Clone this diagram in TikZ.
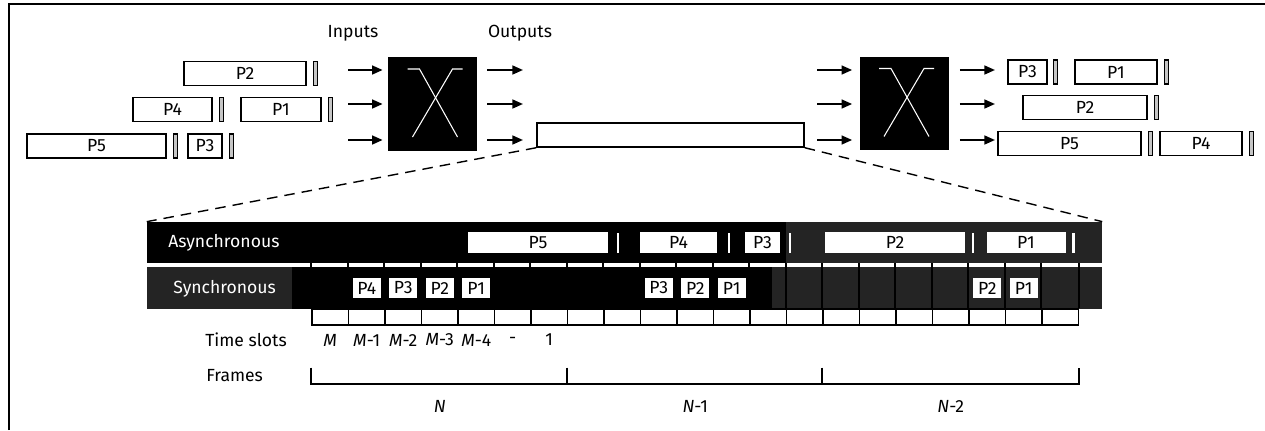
\documentclass[tikz,border=0pt]{standalone}
\usepackage{fontspec}
\setmainfont{Fira Sans}
\usetikzlibrary{positioning, arrows.meta, calc}

\begin{document}
\begin{tikzpicture}[
    x=0.02cm, y=-0.02cm,
    font=\fontsize{10}{12}\selectfont,
    pkt/.style={rectangle, draw, line width=0.8pt, fill=white, minimum width=#1,
                minimum height=0.48cm, inner sep=0pt},
    gapbar/.style={rectangle, draw, line width=0.6pt, fill=gray!45, minimum width=0.08cm,
                   minimum height=0.48cm, inner sep=0pt},
    switchbox/.style={rectangle, fill=black, minimum width=1.78cm, minimum height=1.87cm},
    xline/.style={white, line width=0.6pt},
    arr/.style={-{Triangle[length=6pt, width=5pt]}, line width=1.1pt},
    zoomline/.style={dash pattern=on 6pt off 4pt, line width=0.8pt},
    bandbox/.style={rectangle, fill=black, minimum width=19.1cm, inner sep=0pt},
    stipple/.style={fill=black!86},
    apkt/.style={rectangle, fill=white, minimum width=#1, minimum height=0.42cm, inner sep=0pt},
    amark/.style={rectangle, fill=white, minimum width=0.05cm, minimum height=0.4cm, inner sep=0pt},
    spkt/.style={rectangle, fill=white, minimum width=0.56cm, minimum height=0.4cm, inner sep=0pt},
    slot/.style={rectangle, draw, line width=0.8pt, fill=white, minimum width=0.73cm,
                 minimum height=0.32cm, inner sep=0pt},
    slottick/.style={line width=1.1pt},
    frameline/.style={line width=1.1pt},
    lbl/.style={anchor=west, inner sep=0pt},
  ]
    \useasboundingbox (0,0) rectangle (1265,430);

    % Border
    \draw[line width=0.9pt] (9,430) -- (9,4) -- (1265,4);

    % Headings
    \node (inputs) at (353,33) {Inputs};
    \node (outputs) at (520,33) {Outputs};

    % Input packets
    \node[pkt=2.44cm] (lp2) at (245,73.5) {P2};
    \node[gapbar, right=0.12cm of lp2] (lg2) {};
    \node[pkt=1.58cm] (lp4) at (172.5,109.5) {P4};
    \node[gapbar, right=0.12cm of lp4] (lg4) {};
    \node[pkt=1.6cm] (lp1) at (281,109.5) {P1};
    \node[gapbar, right=0.12cm of lp1] (lg1) {};
    \node[pkt=2.78cm] (lp5) at (96.5,146) {P5};
    \node[gapbar, right=0.12cm of lp5] (lg5) {};
    \node[pkt=0.68cm] (lp3) at (205,146) {P3};
    \node[gapbar, right=0.12cm of lp3] (lg3) {};

    % Switches
    \node[switchbox] (sw1) at (432.5,104) {};
    \node[switchbox] (sw2) at (904,103.5) {};
    \draw[xline] ($(sw1)+(-25,-35)$) -- ++(12,0) -- ($(sw1)+(25,33)$);
    \draw[xline] ($(sw1)+(30,-35)$) -- ++(-10,0) -- ($(sw1)+(-20,33)$);
    \draw[xline] ($(sw2)+(-25,-35)$) -- ++(12,0) -- ($(sw2)+(25,33)$);
    \draw[xline] ($(sw2)+(30,-35)$) -- ++(-10,0) -- ($(sw2)+(-20,33)$);

    % Link between the switches
    \node[pkt=5.34cm] (link) at (670.5,135) {};

    % Arrows
    \coordinate (a1) at (348,70);
    \coordinate (a2) at (348,104);
    \coordinate (a3) at (348,140);
    \coordinate (b1) at (523,70);
    \coordinate (b2) at (523,104);
    \coordinate (b3) at (523,140);
    \coordinate (c1) at (817,70);
    \coordinate (c2) at (817,104);
    \coordinate (c3) at (817,140);
    \coordinate (d1) at (995,70);
    \coordinate (d2) at (995,104);
    \coordinate (d3) at (995,140);
    \draw[arr, shorten >=0.1cm] (a1) -- (a1 -| sw1.west);
    \draw[arr, shorten >=0.1cm] (a2) -- (a2 -| sw1.west);
    \draw[arr, shorten >=0.1cm] (a3) -- (a3 -| sw1.west);
    \draw[arr, shorten <=0.2cm] (b1 -| sw1.east) -- (b1);
    \draw[arr, shorten <=0.2cm] (b2 -| sw1.east) -- (b2);
    \draw[arr, shorten <=0.2cm] (b3 -| sw1.east) -- (b3);
    \draw[arr, shorten >=0.14cm] (c1) -- (c1 -| sw2.west);
    \draw[arr, shorten >=0.14cm] (c2) -- (c2 -| sw2.west);
    \draw[arr, shorten >=0.14cm] (c3) -- (c3 -| sw2.west);
    \draw[arr, shorten <=0.22cm] (d1 -| sw2.east) -- (d1);
    \draw[arr, shorten <=0.22cm] (d2 -| sw2.east) -- (d2);
    \draw[arr, shorten <=0.22cm] (d3 -| sw2.east) -- (d3);

    % Output packets
    \node[pkt=0.78cm] (rp3) at (1027.5,72) {P3};
    \node[gapbar, right=0.1cm of rp3] (rg3) {};
    \node[pkt=1.64cm] (rp1) at (1116,72) {P1};
    \node[gapbar, right=0.12cm of rp1] (rg1) {};
    \node[pkt=2.48cm] (rp2) at (1085,107.5) {P2};
    \node[gapbar, right=0.12cm of rp2] (rg2) {};
    \node[pkt=2.86cm] (rp5) at (1069.5,143.5) {P5};
    \node[gapbar, right=0.12cm of rp5] (rg5) {};
    \node[pkt=1.64cm] (rp4) at (1201,143.5) {P4};
    \node[gapbar, right=0.12cm of rp4] (rg4) {};

    % Asynchronous / synchronous bands
    \node[bandbox, minimum height=0.82cm] (async) at (624.5,242.5) {};
    \node[bandbox, minimum height=0.84cm] (sync) at (624.5,288) {};
    \fill[stipple] (786,222) rectangle (async.south east);
    \fill[stipple] (sync.north west) rectangle (292,309);
    \fill[stipple] (772,267) rectangle (sync.south east);

    % Time slots
    \foreach \i in {1,...,21}
      \node[slot] (s\i) at ({312+(\i-0.5)*36.5},317) {};
    \foreach \i in {1,...,21}
      \draw[slottick] (s\i.north west) -- (s\i.north west |- async.south);
    \draw[slottick] (s21.north east) -- (s21.north east |- async.south);

    % Zoom lines
    \draw[zoomline] (link.south west) -- (async.north west);
    \draw[zoomline] (link.south east) -- (async.north east);

    % Band labels
    \node[lbl, text=white] (asynclbl) at (168,243) {Asynchronous};
    \node[lbl, text=white] (synclbl) at (173,289) {Synchronous};

    % Asynchronous packets
    \node[apkt=2.8cm] (ap5) at (538,242.5) {P5};
    \node[amark, right=0.16cm of ap5] (am5) {};
    \node[apkt=1.54cm] (ap4) at (678.5,242.5) {P4};
    \node[amark, right=0.2cm of ap4] (am4) {};
    \node[apkt=0.7cm] (ap3) at (762.5,242.5) {P3};
    \node[amark, right=0.16cm of ap3] (am3) {};
    \node[apkt=2.8cm] (ap2) at (895,242.5) {P2};
    \node[amark, right=0.12cm of ap2] (am2) {};
    \node[apkt=1.58cm] (ap1) at (1026,242.5) {P1};
    \node[amark, right=0.12cm of ap1] (am1) {};

    % Synchronous packets
    \node[spkt] (sp4) at (s2 |- sync) {P4};
    \node[spkt] (sp3) at (s3 |- sync) {P3};
    \node[spkt] (sp2) at (s4 |- sync) {P2};
    \node[spkt] (sp1) at (s5 |- sync) {P1};
    \node[spkt] (sq3) at (s10 |- sync) {P3};
    \node[spkt] (sq2) at (s11 |- sync) {P2};
    \node[spkt] (sq1) at (s12 |- sync) {P1};
    \node[spkt] (sr2) at (s19 |- sync) {P2};
    \node[spkt] (sr1) at (s20 |- sync) {P1};

    % Slot numbers
    \node[lbl] (tslots) at (205,340) {Time slots};
    \node (t1) at (s1 |- tslots) {\textit{M}};
    \node (t2) at (s2 |- tslots) {\textit{M}-1};
    \node (t3) at (s3 |- tslots) {\textit{M}-2};
    \node (t4) at (s4 |- tslots) {\textit{M}-3};
    \node (t5) at (s5 |- tslots) {\textit{M}-4};
    \node (t6) at (s6 |- tslots) {-};
    \node (t7) at (s7 |- tslots) {1};

    % Frames
    \node[lbl] (frames) at (206,376) {Frames};
    \draw[frameline] ($(s1.south west)+(0,42)$) -- ($(s1.south west)+(0,58)$)
      -- ($(s21.south east)+(0,58)$) -- ($(s21.south east)+(0,42)$);
    \draw[frameline] ($(s8.south west)+(0,42)$) -- ++(0,16);
    \draw[frameline] ($(s15.south west)+(0,42)$) -- ++(0,16);
    \node (fn) at ($(s4.south)+(0,81)$) {\textit{N}};
    \node (fn1) at ($(s11.south)+(0,81)$) {\textit{N}-1};
    \node (fn2) at ($(s18.south)+(0,81)$) {\textit{N}-2};

  \end{tikzpicture}
\end{document}
